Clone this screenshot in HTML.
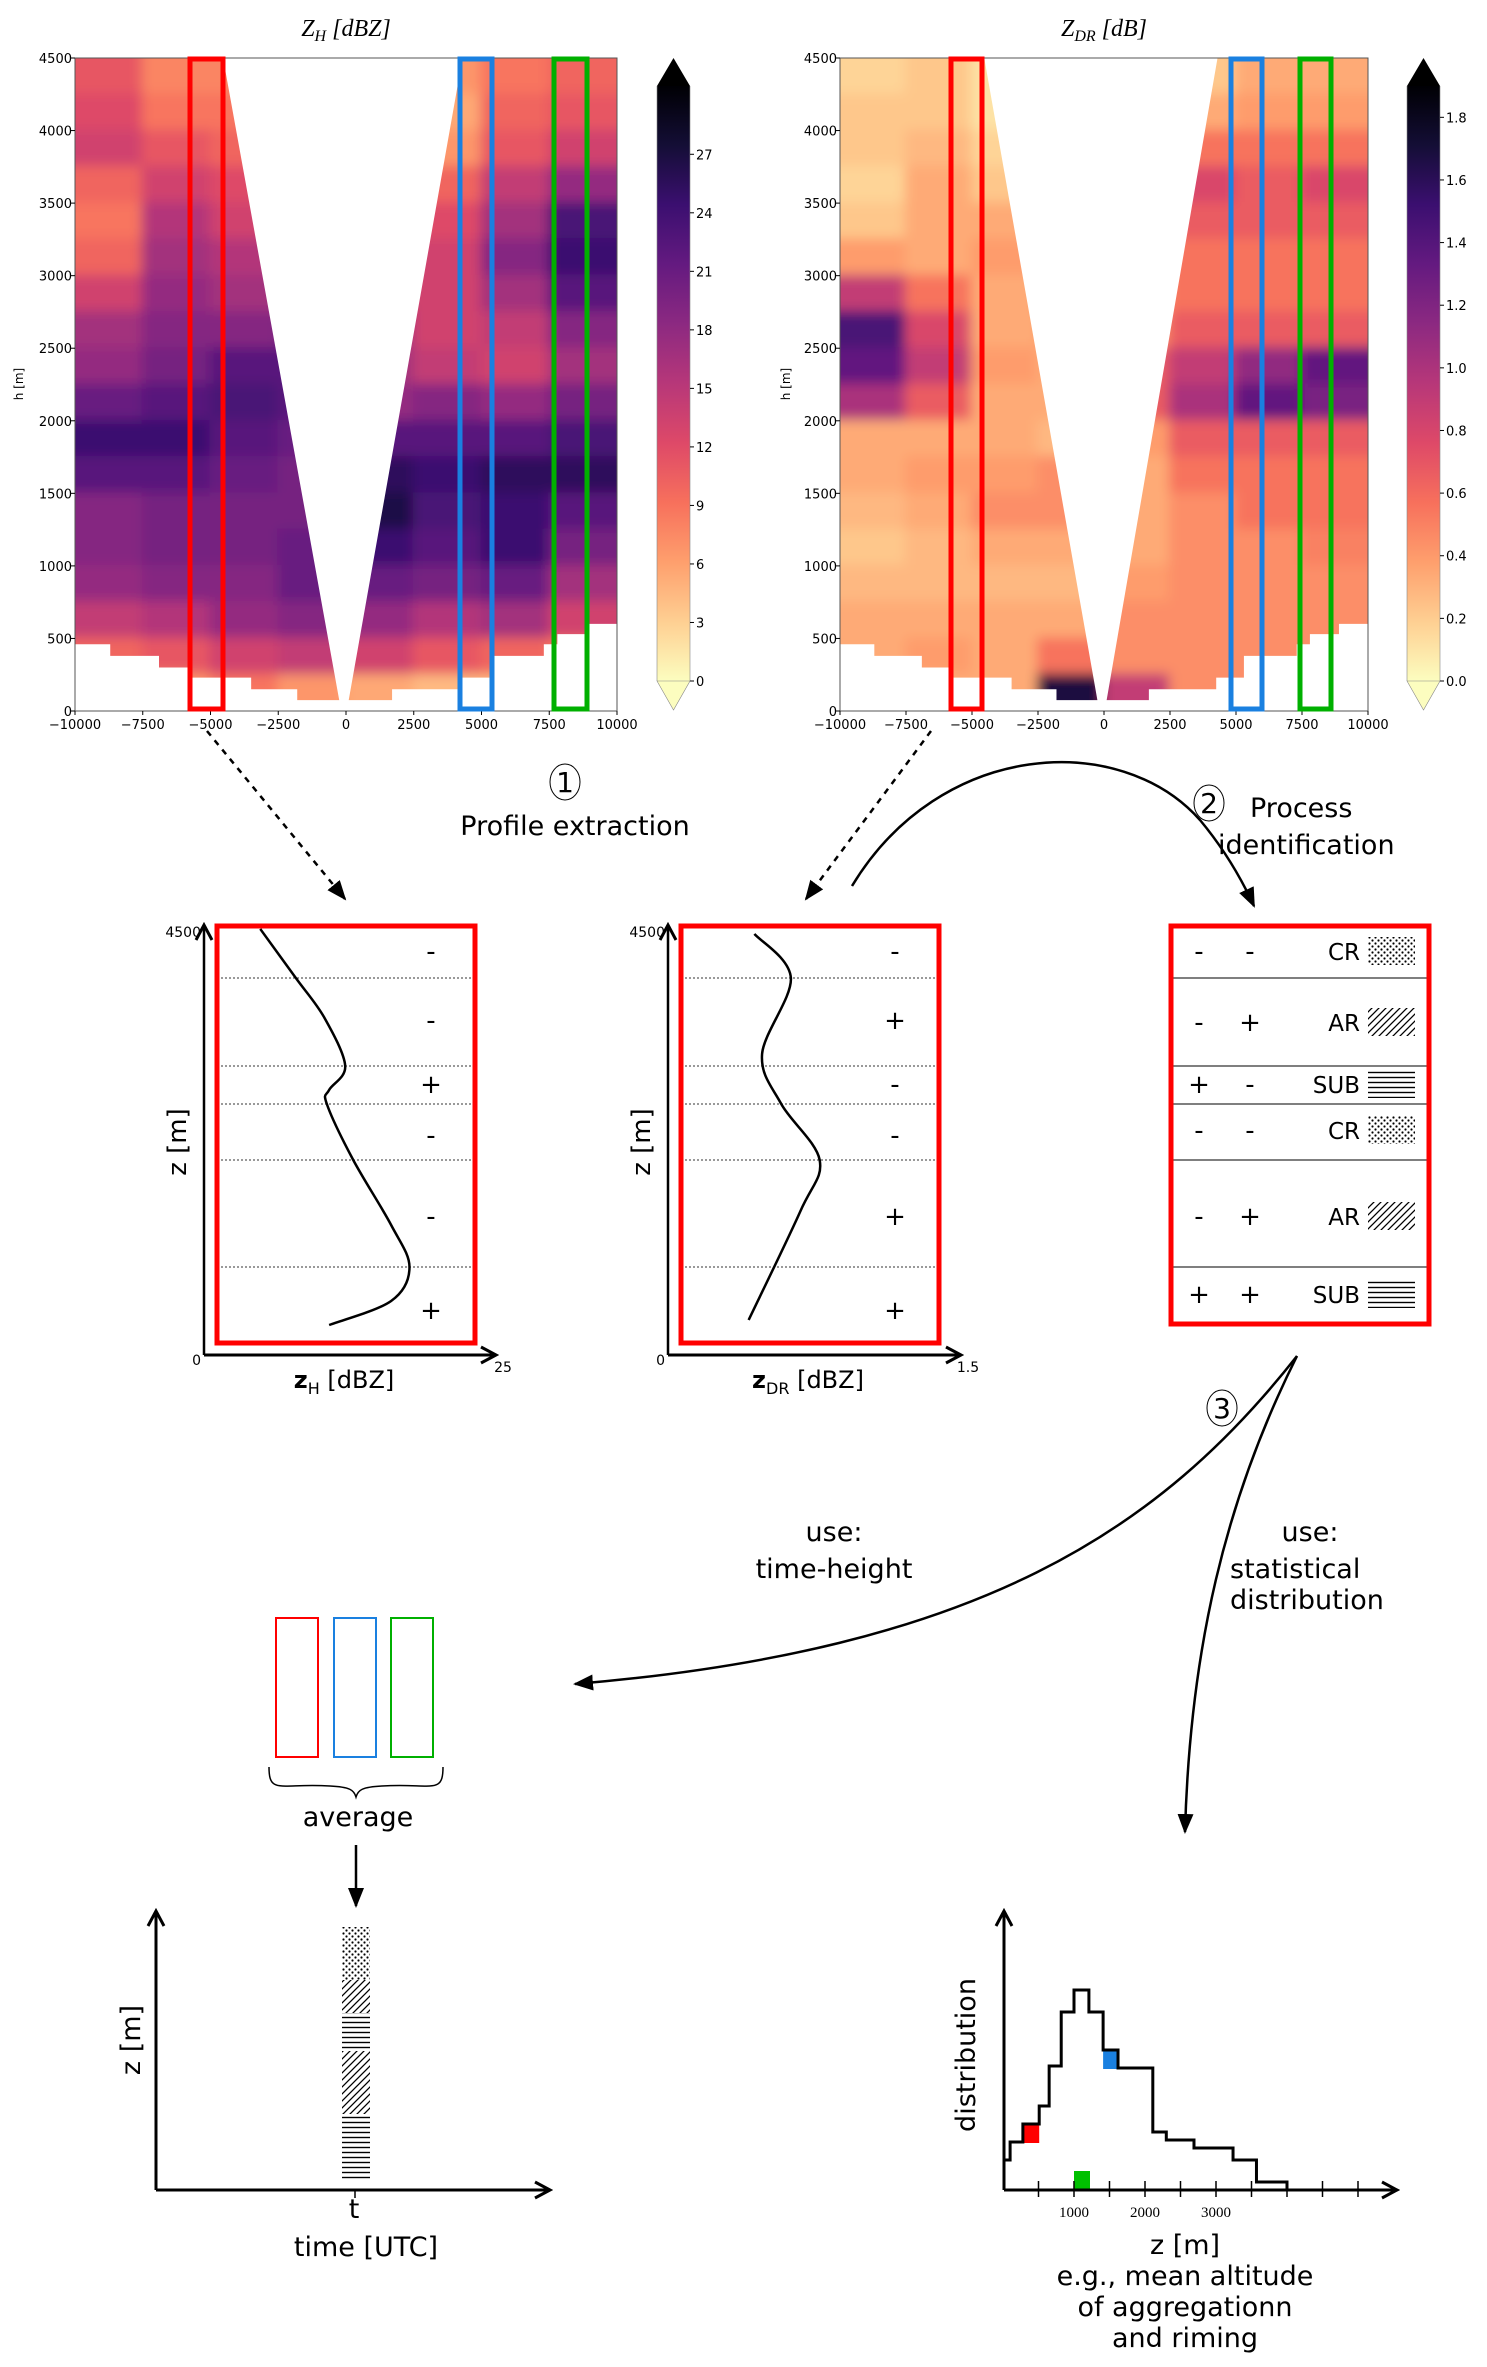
<!DOCTYPE html>
<html><head><meta charset="utf-8"><style>
html,body{margin:0;padding:0;background:#fff;}
svg{display:block;font-family:"DejaVu Sans","Liberation Sans",sans-serif;}
</style></head><body>
<svg id="fig" width="1487" height="2367" viewBox="0 0 1487 2367" xmlns="http://www.w3.org/2000/svg">
<defs>
 <pattern id="pDots" width="6" height="6" patternUnits="userSpaceOnUse"><circle cx="1.5" cy="1.5" r="1.1" fill="#000"/><circle cx="4.5" cy="4.5" r="1.1" fill="#000"/></pattern>
 <pattern id="pDiag" width="7" height="7" patternUnits="userSpaceOnUse"><path d="M-1,8 L8,-1 M-4,4 L4,-4 M3,11 L11,3" stroke="#000" stroke-width="1.3"/></pattern>
 <pattern id="pHor" width="8" height="5" patternUnits="userSpaceOnUse"><path d="M0,2.5 H8" stroke="#000" stroke-width="1.4"/></pattern>
 <marker id="ahb" markerWidth="22" markerHeight="22" refX="18" refY="11" orient="auto" markerUnits="userSpaceOnUse" viewBox="0 0 22 22"><path d="M0,3 L20,11 L0,19 Z" fill="#000"/></marker>
 <marker id="aho" markerWidth="20" markerHeight="20" refX="16" refY="10" orient="auto" markerUnits="userSpaceOnUse" viewBox="0 0 20 20"><path d="M2,2 L17,10 L2,18" fill="none" stroke="#000" stroke-width="3"/></marker>
 <filter id="blur" x="-5%" y="-5%" width="110%" height="110%"><feGaussianBlur stdDeviation="6"/></filter>
 <linearGradient id="gZH" x1="0" y1="1" x2="0" y2="0">
  <stop offset="0" stop-color="#fcfdbf"/><stop offset="0.1" stop-color="#fecf92"/><stop offset="0.2" stop-color="#fe9f6d"/><stop offset="0.3" stop-color="#f7705c"/><stop offset="0.4" stop-color="#de4968"/><stop offset="0.5" stop-color="#b73779"/><stop offset="0.6" stop-color="#8c2981"/><stop offset="0.7" stop-color="#641a80"/><stop offset="0.8" stop-color="#3b0f70"/><stop offset="0.9" stop-color="#140e36"/><stop offset="1" stop-color="#000004"/>
 </linearGradient>
</defs>
<g id="root"></g>
</svg>
<script>
// ---------- DATA ----------
const xCenters = [-8750,-6250,-3750,-1250,1250,3750,6250,8750];
const heightBins = [4500,4250,4000,3750,3500,3250,3000,2750,2500,2250,2000,1750,1500,1250,1000,750,500,250];
const zhValues = [
 [10,7,7,6,4,6,8,9],[11,8,8,6,4,5,9,10],[12,10,9,8,5,6,10,12],[9,12,11,9,8,9,13,16],
 [8,14,12,11,10,11,15,21],[9,15,14,13,12,12,17,22],[12,16,15,15,13,12,15,20],[15,17,17,18,15,12,13,17],
 [16,18,20,20,15,13,12,15],[19,20,21,20,16,17,16,18],[22,22,20,19,20,20,20,21],[20,20,19,18,23,22,23,23],
 [17,18,18,18,24,21,22,20],[17,18,18,19,22,20,22,18],[16,17,17,19,19,18,19,15],[13,14,16,17,16,14,15,12],
 [9,10,12,13,12,10,9,8],[6,6,8,6,5,4,4,4]];
const zdrValues = [
 [0.15,0.2,0.1,0.1,0.1,0.2,0.3,0.3],[0.2,0.2,0.1,0.1,0.15,0.3,0.35,0.35],[0.2,0.25,0.15,0.15,0.3,0.5,0.5,0.5],
 [0.15,0.3,0.2,0.3,0.6,0.7,0.6,0.7],[0.2,0.3,0.3,0.4,0.5,0.6,0.6,0.6],[0.35,0.3,0.35,0.5,0.4,0.5,0.5,0.5],
 [0.8,0.5,0.3,0.5,0.4,0.5,0.5,0.5],[1.3,0.7,0.3,0.35,0.4,0.6,0.6,0.6],[1.2,0.8,0.35,0.3,0.6,0.8,1.0,1.2],
 [0.9,0.6,0.3,0.3,0.6,0.9,1.2,1.1],[0.3,0.3,0.3,0.25,0.35,0.6,0.6,0.6],[0.3,0.35,0.35,0.4,0.3,0.5,0.5,0.5],
 [0.25,0.3,0.4,0.4,0.3,0.4,0.5,0.5],[0.2,0.25,0.3,0.3,0.3,0.4,0.4,0.45],[0.25,0.25,0.25,0.25,0.35,0.4,0.4,0.4],
 [0.3,0.3,0.3,0.3,0.4,0.4,0.4,0.4],[0.3,0.35,0.3,0.5,0.4,0.4,0.4,0.4],[0.3,0.3,0.3,1.5,0.8,0.4,0.4,0.4]];
const xTickLabels = ["−10000","−7500","−5000","−2500","0","2500","5000","7500","10000"];
const xTickValues = [-10000,-7500,-5000,-2500,0,2500,5000,7500,10000];
const yTickValues = [0,500,1000,1500,2000,2500,3000,3500,4000,4500];
const zhCbTicks = [0,3,6,9,12,15,18,21,24,27];
const zdrCbTicks = ["0.0","0.2","0.4","0.6","0.8","1.0","1.2","1.4","1.6","1.8"];
const zhProfileVals = [4.9,8.0,10.5,12.3,10.9,10.7,13.0,16.3,17.9,16.3,10.9];
const zhProfileHeights = [4490,3973,3552,3046,2793,2645,2055,1370,927,569,316];
const zdrProfileVals = [0.45,0.64,0.49,0.59,0.79,0.69,0.42];
const zdrProfileHeights = [4437,3973,3172,2645,2055,1518,369];
const layerBounds = [3973,3046,2645,2055,927];
const histEdges = [0,100,280,510,650,820,1000,1210,1410,1620,2110,2300,2690,3240,3570,4000];
const histCounts = [15,24,33,42,62,89,100,89,70,61,29,25,21,15,4];

// ---------- HELPERS ----------
const NS="http://www.w3.org/2000/svg";
const root=document.getElementById('root');
function mk(tag,attrs,parent,txt){const e=document.createElementNS(NS,tag);for(const k in attrs)e.setAttribute(k,attrs[k]);if(txt!==undefined)e.textContent=txt;(parent||root).appendChild(e);return e;}
const magma=[[0,"#000004"],[0.1,"#140e36"],[0.2,"#3b0f70"],[0.3,"#641a80"],[0.4,"#8c2981"],[0.5,"#b73779"],[0.6,"#de4968"],[0.7,"#f7705c"],[0.8,"#fe9f6d"],[0.9,"#fecf92"],[1,"#fcfdbf"]];
function hex(h){return [parseInt(h.slice(1,3),16),parseInt(h.slice(3,5),16),parseInt(h.slice(5,7),16)];}
function cmap(t){t=Math.max(0,Math.min(1,1-t));for(let i=1;i<magma.length;i++){if(t<=magma[i][0]){const a=magma[i-1],b=magma[i];const f=(t-a[0])/(b[0]-a[0]);const A=hex(a[1]),B=hex(b[1]);return `rgb(${A.map((v,j)=>Math.round(v+(B[j]-v)*f)).join(',')})`;}}return magma[10][1];}
function smooth(pts){let d=`M${pts[0][0]},${pts[0][1]}`;for(let i=0;i<pts.length-1;i++){const p0=pts[Math.max(0,i-1)],p1=pts[i],p2=pts[i+1],p3=pts[Math.min(pts.length-1,i+2)];d+=` C${p1[0]+(p2[0]-p0[0])/6},${p1[1]+(p2[1]-p0[1])/6} ${p2[0]-(p3[0]-p1[0])/6},${p2[1]-(p3[1]-p1[1])/6} ${p2[0]},${p2[1]}`;}return d;}

const leftPoly=[[-10000,4500],[-4536,4500],[-250,75],[-1800,75],[-1800,150],[-3500,150],[-3500,230],[-5700,230],[-5700,300],[-6900,300],[-6900,380],[-8700,380],[-8700,460],[-10000,460]];
const rightPoly=[[4300,4500],[10000,4500],[10000,600],[8900,600],[8900,530],[7800,530],[7800,460],[7300,460],[7300,380],[5300,380],[5300,230],[4250,230],[4250,150],[1700,150],[1700,75],[100,75]];

function heatmap(id,X0,X1,values,vmax,cmax,title,cbX,cbTicks,cbLabels,boxes,ylabX){
 const Y0=58,Y1=711;
 const xs=v=>X0+(v+10000)/20000*(X1-X0);
 const ys=v=>Y1-v/4500*(Y1-Y0);
 const g=mk('g',{});
 
 
 const cp=mk('clipPath',{id:id+'clip'},g);
 [leftPoly,rightPoly].forEach(P=>mk('polygon',{points:P.map(p=>xs(p[0])+','+ys(p[1])).join(' ')},cp));
 const cg=mk('g',{'clip-path':`url(#${id}clip)`},g);
 const bg=mk('g',{filter:'url(#blur)'},cg);
 const cw=xs(2500)-xs(0), ch=ys(0)-ys(250);
 const nR=values.length,nC=values[0].length;
 values.forEach((row,r)=>row.forEach((v,c)=>{
   let x=xs(xCenters[c])-cw/2-1, w=cw+2, y=ys(heightBins[r])-1, h=ch+2;
   if(c===0){x-=40;w+=40;} if(c===nC-1){w+=40;}
   if(r===0){y-=40;h+=40;} if(r===nR-1){h+=40;}
   const cell=mk('rect',{x:x,y:y,width:w,height:h,fill:cmap(v/cmax)},bg);
   
   
 }));
 mk('rect',{x:X0,y:Y0,width:X1-X0,height:Y1-Y0,fill:'none',stroke:'#555','stroke-width':1},g);
 xTickValues.forEach((v,i)=>{mk('line',{x1:xs(v),x2:xs(v),y1:Y1,y2:Y1+4,stroke:'#000'},g);
   const t=mk('text',{x:xs(v),y:Y1+18,'font-size':13,'text-anchor':'middle'},g,xTickLabels[i]);
   });
 yTickValues.forEach(v=>{mk('line',{x1:X0-4,x2:X0,y1:ys(v),y2:ys(v),stroke:'#000'},g);
   const t=mk('text',{x:X0-3,y:ys(v)+5,'font-size':13,'text-anchor':'end'},g,String(v));
   });
 const yl=mk('text',{x:ylabX,y:384,'font-size':12,'text-anchor':'middle',transform:`rotate(-90 ${ylabX} 384)`},g,'h [m]');
 
 const tt=mk('text',{x:(X0+X1)/2,y:36,'font-size':24,'text-anchor':'middle','font-family':'Liberation Serif, serif','font-style':'italic'},g);
 
 mk('tspan',{},tt,title[0]);mk('tspan',{'font-size':16,dy:5},tt,title[1]);mk('tspan',{dy:-5},tt,' ['+title[2]+']');
 const cb=mk('g',{},g);
 const cy0=86,cy1=681,w=33;
 mk('rect',{x:cbX,y:cy0,width:w,height:cy1-cy0,fill:'url(#gZH)'},cb);
 mk('polygon',{points:`${cbX},${cy0} ${cbX+w/2},58 ${cbX+w},${cy0}`,fill:'#000'},cb);
 mk('polygon',{points:`${cbX},${cy1} ${cbX+w/2},710 ${cbX+w},${cy1}`,fill:'#fcfdbf',stroke:'#888','stroke-width':0.6},cb);
 mk('path',{d:`M${cbX},${cy1} V${cy0} M${cbX+w},${cy0} V${cy1}`,stroke:'#888','stroke-width':0.6,fill:'none'},cb);
 cbTicks.forEach((v,i)=>{const y=cy1-v/vmax*(cy1-cy0);mk('line',{x1:cbX+w,x2:cbX+w+4,y1:y,y2:y,stroke:'#000'},cb);
   mk('text',{x:cbX+w+6,y:y+5,'font-size':13},cb,cbLabels[i]);});
 boxes.forEach(b=>{const r=mk('rect',{x:b[0],y:59,width:b[1]-b[0],height:650,fill:'none',stroke:b[2],'stroke-width':5},g);
   });
}
heatmap('zh',75,617,zhValues,30.5,27.5,['Z','H','dBZ'],657,zhCbTicks,zhCbTicks.map(String),[[190,223,'#ff0000'],[460,492,'#1a80e0'],[554,587,'#00b000']],23);
heatmap('zdr',840,1368,zdrValues,1.9,1.7,['Z','DR','dB'],1407,zdrCbTicks.map(Number),zdrCbTicks,[[951,982,'#ff0000'],[1231,1262,'#1a80e0'],[1300,1331,'#00b000']],790);

// ---------- Step 1 & 2 annotations ----------
function circledNum(x,y,n,name){const g=mk('g',{});
 mk('ellipse',{cx:x,cy:y,rx:15,ry:18,fill:'none',stroke:'#000','stroke-width':1},g);mk('text',{x:x,y:y+10,'font-size':28,'text-anchor':'middle'},g,n);}
circledNum(565,782,'1','step-1-marker');
circledNum(1209,803,'2','step-2-marker');
circledNum(1222,1408,'3','step-3-marker');
let t;
t=mk('text',{x:575,y:835,'font-size':27,'text-anchor':'middle'},root,'Profile extraction');
t=mk('text',{x:1250,y:817,'font-size':27},root,'Process');
t=mk('text',{x:1218,y:854,'font-size':27},root,'identification');
t=mk('path',{d:'M207,731 L345,899',stroke:'#000','stroke-width':2.5,'stroke-dasharray':'6,6',fill:'none','marker-end':'url(#ahb)'});
t=mk('path',{d:'M931,731 L806,899',stroke:'#000','stroke-width':2.5,'stroke-dasharray':'6,6',fill:'none','marker-end':'url(#ahb)'});
t=mk('path',{d:'M852,886 C940,740 1120,730 1200,820 C1225,850 1242,880 1254,906',stroke:'#000','stroke-width':2.5,fill:'none','marker-end':'url(#ahb)'});

// ---------- Profiles ----------
function profile(id,ax0,ax1,vmax,vals,hts,signs,xlab,xsub,maxLbl){
 const AY0=1355,AY1=928;
 const xs=v=>ax0+v/vmax*(ax1-ax0), ys=h=>AY0-h/4500*(AY0-AY1);
 const g=mk('g',{});
 const bx0=ax0+13,bx1=ax0+271;
 layerBounds.forEach(h=>mk('line',{x1:bx0,x2:bx1,y1:ys(h),y2:ys(h),stroke:'#333','stroke-width':1,'stroke-dasharray':'2,2'},g));
 mk('rect',{x:bx0,y:926,width:bx1-bx0,height:417,fill:'none',stroke:'#ff0000','stroke-width':5},g);
 mk('path',{d:`M${ax0},${AY0} V${AY1-2}`,stroke:'#000','stroke-width':2.5,fill:'none','marker-end':'url(#aho)'},g);
 mk('path',{d:`M${ax0},${AY0} H${ax1+4}`,stroke:'#000','stroke-width':3,fill:'none','marker-end':'url(#aho)'},g);
 const c=mk('path',{d:smooth(vals.map((v,i)=>[xs(v),ys(hts[i])])),stroke:'#000','stroke-width':2.5,fill:'none'},g);
 
 const sy=[951,1020,1084,1135,1216,1310];
 signs.forEach((s,i)=>mk('text',{x:bx0+214,y:sy[i]+9,'font-size':26,'text-anchor':'middle'},g,s));
 mk('text',{x:ax0-3,y:AY1+9,'font-size':14,'text-anchor':'end'},g,'4500');
 mk('text',{x:ax0-3,y:AY0+10,'font-size':14,'text-anchor':'end'},g,'0');
 mk('text',{x:ax1+12,y:1372,'font-size':14,'text-anchor':'middle'},g,maxLbl);
 const zl=mk('text',{x:ax0-18,y:1142,'font-size':26,'text-anchor':'middle',transform:`rotate(-90 ${ax0-18} 1142)`},g,'z [m]');
 
 const xl=mk('text',{x:ax0+140,y:1388,'font-size':24,'text-anchor':'middle'},g);
 
 mk('tspan',{'font-weight':'bold'},xl,xlab);mk('tspan',{'font-size':16,dy:6},xl,xsub);mk('tspan',{dy:-6},xl,' [dBZ]');
}
profile('zh',204,491,25,zhProfileVals,zhProfileHeights,['-','-','+','-','-','+'],'z','H','25');
profile('zdr',668,956,1.5,zdrProfileVals,zdrProfileHeights,['-','+','-','-','+','+'],'z','DR','1.5');

// ---------- Process table ----------
const pt=mk('g',{});
[978,1066,1104,1160,1267].forEach(y=>mk('line',{x1:1171,x2:1429,y1:y,y2:y,stroke:'#333','stroke-width':1.3},pt));
mk('rect',{x:1171,y:926,width:258,height:398,fill:'none',stroke:'#ff0000','stroke-width':5},pt);
const rows=[[951,'-','-','CR','pDots'],[1022,'-','+','AR','pDiag'],[1084,'+','-','SUB','pHor'],[1130,'-','-','CR','pDots'],[1216,'-','+','AR','pDiag'],[1294,'+','+','SUB','pHor']];
rows.forEach(r=>{const rg=mk('g',{},pt);
 mk('text',{x:1199,y:r[0]+9,'font-size':26,'text-anchor':'middle'},rg,r[1]);
 mk('text',{x:1250,y:r[0]+9,'font-size':26,'text-anchor':'middle'},rg,r[2]);
 mk('text',{x:1360,y:r[0]+9,'font-size':23,'text-anchor':'end'},rg,r[3]);
 mk('rect',{x:1368,y:r[0]-14,width:47,height:28,fill:`url(#${r[4]})`},rg);});

// ---------- Step 3 arrows & labels ----------
t=mk('path',{d:'M1297,1356 C1160,1530 980,1650 575,1684',stroke:'#000','stroke-width':2.5,fill:'none','marker-end':'url(#ahb)'});
t=mk('path',{d:'M1297,1356 C1225,1500 1190,1650 1185,1832',stroke:'#000','stroke-width':2.5,fill:'none','marker-end':'url(#ahb)'});
[[834,1541,'use:','middle'],[834,1578,'time-height','middle'],[1310,1541,'use:','middle'],[1230,1578,'statistical','start'],[1230,1609,'distribution','start']].forEach(a=>{
 const e=mk('text',{x:a[0],y:a[1],'font-size':27,'text-anchor':a[3]},root,a[2]);});

// ---------- Averaging ----------
[[276,'#ff0000'],[334,'#1a80e0'],[391,'#00b000']].forEach(b=>{const r=mk('rect',{x:b[0],y:1618,width:42,height:139,fill:'none',stroke:b[1],'stroke-width':2});});
t=mk('path',{d:'M269,1767 C269,1795 280,1783 330,1786 C350,1787 354,1790 356,1797 C358,1790 362,1787 382,1786 C432,1783 443,1795 443,1767',stroke:'#000','stroke-width':1.5,fill:'none'});
t=mk('text',{x:358,y:1826,'font-size':27,'text-anchor':'middle'},root,'average');
t=mk('path',{d:'M356,1845 V1906',stroke:'#000','stroke-width':2.5,'marker-end':'url(#ahb)'});

const th=mk('g',{});
mk('path',{d:'M156,2190 V1912',stroke:'#000','stroke-width':3,fill:'none','marker-end':'url(#aho)'},th);
mk('path',{d:'M156,2190 H549',stroke:'#000','stroke-width':3,fill:'none','marker-end':'url(#aho)'},th);
mk('line',{x1:355,x2:355,y1:2190,y2:2198,stroke:'#000','stroke-width':1.5},th);
[[1927,1980,'pDots'],[1980,2013,'pDiag'],[2013,2051,'pHor'],[2051,2114,'pDiag'],[2114,2179,'pHor']].forEach(s=>mk('rect',{x:342,y:s[0],width:28,height:s[1]-s[0],fill:`url(#${s[2]})`},th));
mk('text',{x:354,y:2218,'font-size':27,'text-anchor':'middle'},th,'t');
mk('text',{x:366,y:2256,'font-size':27,'text-anchor':'middle'},th,'time [UTC]');
mk('text',{x:140,y:2040,'font-size':27,'text-anchor':'middle',transform:'rotate(-90 140 2040)'},th,'z [m]');

// histogram
const hg=mk('g',{});
const hx=z=>1003+z/1000*71, hy=v=>2190-v*2;
let d=`M${hx(histEdges[0])},${hy(histCounts[0])}`;
histCounts.forEach((v,i)=>{d+=` H${hx(histEdges[i+1])}`; if(i+1<histCounts.length)d+=` V${hy(histCounts[i+1])}`; else d+=` V2190`;});
const mkSq=(i,col,name)=>{const r=mk('rect',{x:hx(histEdges[i]),y:hy(histCounts[i]),width:hx(histEdges[i+1])-hx(histEdges[i]),height:19,fill:col},hg);};
mkSq(2,'#ff0000','red-marker');mkSq(8,'#1a80e0','blue-marker');
const gs=mk('rect',{x:hx(1000),y:2171,width:16,height:19,fill:'#00c000'},hg);
const hp=mk('path',{d:d,stroke:'#000','stroke-width':3,fill:'none'},hg);
mk('path',{d:'M1004,2190 V1912',stroke:'#000','stroke-width':3,fill:'none','marker-end':'url(#aho)'},hg);
mk('path',{d:'M1004,2190 H1396',stroke:'#000','stroke-width':3,fill:'none','marker-end':'url(#aho)'},hg);
for(let z=500;z<=5000;z+=500){mk('line',{x1:hx(z),x2:hx(z),y1:2181,y2:2197,stroke:'#000','stroke-width':1.5},hg);}
[1000,2000,3000].forEach(z=>mk('text',{x:hx(z),y:2217,'font-size':15,'text-anchor':'middle','font-family':'Liberation Serif, serif'},hg,String(z)));
mk('text',{x:975,y:2055,'font-size':27,'text-anchor':'middle',transform:'rotate(-90 975 2055)'},hg,'distribution');
[[2254,'z [m]'],[2285,'e.g., mean altitude'],[2316,'of aggregationn'],[2347,'and riming']].forEach(a=>mk('text',{x:1185,y:a[0],'font-size':27,'text-anchor':'middle'},hg,a[1]));
</script>
</body></html>
